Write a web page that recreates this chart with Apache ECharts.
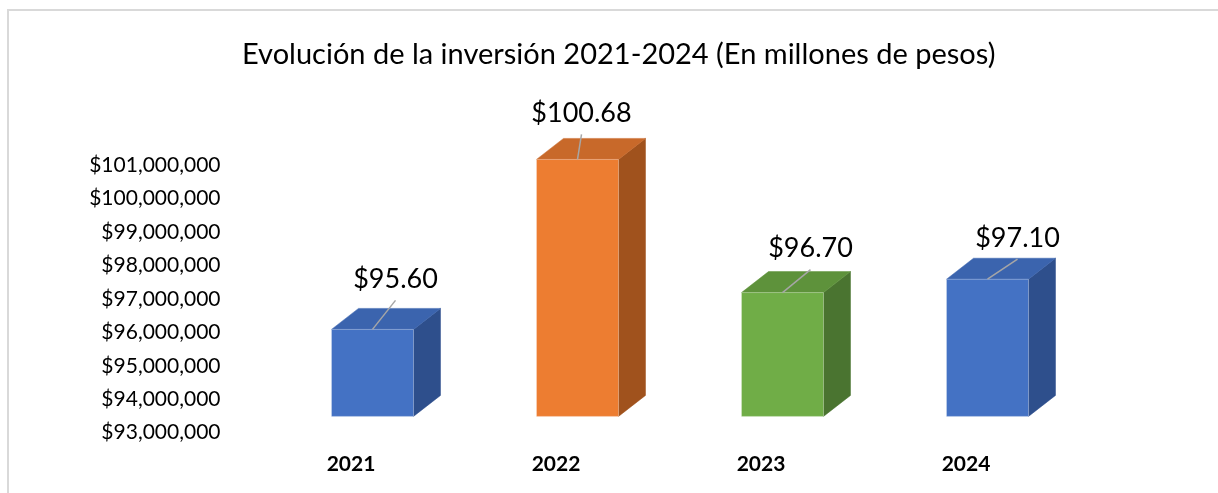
<!DOCTYPE html>
<html>
<head>
<meta charset="utf-8">
<script src="https://cdn.jsdelivr.net/npm/echarts@6/dist/echarts.min.js"></script>
<style>
  html, body { margin: 0; padding: 0; background: #ffffff; }
  #chart { width: 1218px; height: 493px; }
</style>
</head>
<body>
<div id="chart"></div>
<script>
// Inversión anual, en millones de pesos
const years = ['2021', '2022', '2023', '2024'];
const inversion = [95.60, 100.68, 96.70, 97.10];

// Eje de valores (millones)
const axisMin = 93;
const axisMax = 101;
const axisStep = 1;

// Colores de cada columna: cara frontal, superior y lateral
const frontColors = ['#4472C4', '#ED7D31', '#70AD47', '#4472C4'];
const topColors   = ['#3B64AE', '#C8692A', '#5E923B', '#3B64AE'];
const sideColors  = ['#2E4F8C', '#A0521D', '#4A7430', '#2E4F8C'];

// Posición de cada etiqueta respecto al centro superior de la cara frontal
const labelShift = [[23, -50], [4, -46], [28, -44], [30, -41]];

// Proyección 3D: retranqueo de las columnas y profundidad
const SET_BACK = [21.5, -16.3];
const DEPTH = [27, -21];
const BAR_RATIO = 0.40;

const FONT = 'Lato, "Open Sans", "Liberation Sans", sans-serif';

function renderBox(params, api) {
  const i = params.dataIndex;
  const x = api.value(0);
  const v = api.value(1);
  const base = api.coord([x, axisMin]);
  const top = api.coord([x, v]);
  const bw = api.size([1, 0])[0] * BAR_RATIO;

  const x0 = base[0] + SET_BACK[0] - bw / 2;
  const x1 = x0 + bw;
  const yT = top[1] + SET_BACK[1];
  const yB = base[1] + SET_BACK[1];
  const dx = DEPTH[0], dy = DEPTH[1];
  const cx = (x0 + x1) / 2;

  const tx = cx + labelShift[i][0];
  const ty = yT + labelShift[i][1];

  return {
    type: 'group',
    children: [
      {
        type: 'polygon',
        shape: { points: [[x1, yT], [x1 + dx, yT + dy], [x1 + dx, yB + dy], [x1, yB]] },
        style: { fill: sideColors[i], stroke: sideColors[i], lineWidth: 0.5 }
      },
      {
        type: 'polygon',
        shape: { points: [[x0, yT], [x1, yT], [x1 + dx, yT + dy], [x0 + dx, yT + dy]] },
        style: { fill: topColors[i], stroke: topColors[i], lineWidth: 0.5 }
      },
      {
        type: 'rect',
        shape: { x: x0, y: yT, width: bw, height: yB - yT },
        style: { fill: frontColors[i], stroke: 'rgba(255,255,255,0.25)', lineWidth: 1 }
      },
      {
        type: 'line',
        shape: { x1: cx, y1: yT, x2: tx, y2: ty + 21 },
        style: { stroke: '#A6A6A6', lineWidth: 1.5 }
      },
      {
        type: 'text',
        style: {
          x: tx, y: ty,
          text: '$' + v.toFixed(2),
          fill: '#000000',
          font: '27px ' + FONT,
          align: 'center',
          verticalAlign: 'middle'
        }
      }
    ]
  };
}

const chart = echarts.init(document.getElementById('chart'), null, { renderer: 'canvas' });

chart.setOption({
  animation: false,
  backgroundColor: '#ffffff',
  title: {
    text: 'Evolución de la inversión 2021-2024 (En millones de pesos)',
    left: 237,
    top: 35,
    textStyle: { fontFamily: FONT, fontSize: 29, fontWeight: 'normal', color: '#000000' }
  },
  graphic: [{
    type: 'rect',
    shape: { x: 8, y: 10, width: 1240, height: 520 },
    style: { fill: 'none', stroke: '#D9D9D9', lineWidth: 2 },
    silent: true
  }],
  grid: { left: 248.5, right: 149.5, top: 165, bottom: 60.3, containLabel: false },
  xAxis: {
    type: 'category',
    data: years,
    axisLine: { show: false },
    axisTick: { show: false },
    axisLabel: {
      margin: 21,
      fontFamily: FONT,
      fontSize: 21,
      fontWeight: 'bold',
      color: '#000000'
    }
  },
  yAxis: {
    type: 'value',
    min: axisMin,
    max: axisMax,
    interval: axisStep,
    axisLine: { show: false },
    axisTick: { show: false },
    splitLine: { show: false },
    axisLabel: {
      margin: 28,
      fontFamily: FONT,
      fontSize: 21,
      color: '#000000',
      formatter: function (val) {
        return '$' + Math.round(val * 1e6).toLocaleString('en-US');
      }
    }
  },
  series: [{
    type: 'custom',
    renderItem: renderBox,
    encode: { x: 0, y: 1 },
    clip: false,
    data: inversion.map(function (v, i) { return [i, v]; })
  }]
});
</script>
</body>
</html>
